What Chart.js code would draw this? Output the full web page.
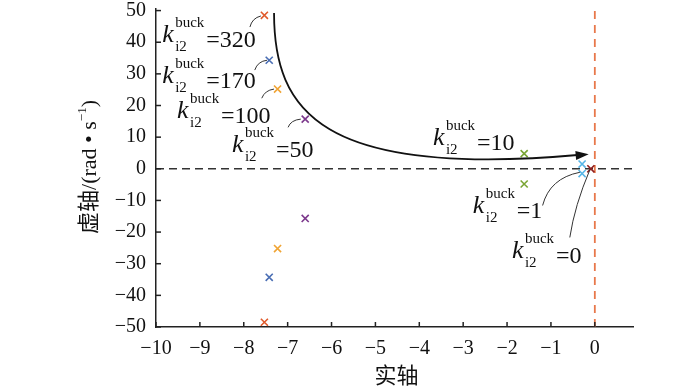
<!DOCTYPE html>
<html><head><meta charset="utf-8">
<script src="https://cdn.jsdelivr.net/npm/chart.js@4.4.0/dist/chart.umd.min.js"></script>
<style>html,body{margin:0;padding:0;background:#fff}#wrap{width:700px;height:388px}</style>
</head><body><div id="wrap"><canvas id="c"></canvas></div>
<script>
// ── data ──
const gains    = ['320', '170', '100', '50', '10', '1', '0'];
const realPart = [-7.53, -7.42, -7.23, -6.60, -1.61, -0.29, -0.09];
const imagPart = [48.5, 34.3, 25.2, 15.7, 4.8, 1.5, 0];
const xTicks = [-10, -9, -8, -7, -6, -5, -4, -3, -2, -1, 0];
const yTicks = [-50, -40, -30, -20, -10, 0, 10, 20, 30, 40, 50];

// label anchors (k baseline), in axis units
const labelX = [-9.86, -9.86, -9.52, -8.27, -3.69, -2.78, -1.89];
const labelY = [40.0, 27.1, 16.0, 5.2, 7.4, -14.1, -28.3];
// leader curves: start, control, end (axis units)
const leaders = [
    [-7.86, 44.8, -7.81, 47.6, -7.61, 48.3],
    [-7.75, 31.2, -7.68, 34.0, -7.47, 34.3],
    [-7.59, 22.3, -7.52, 24.8, -7.31, 25.2],
    [-6.99, 13.1, -6.93, 15.4, -6.70, 15.7],
    null,
    [-1.19, -11.6, -1.03, -3.0, -0.34, -1.1],
    [-0.57, -21.7, -0.46, -11.6, -0.11, -0.2]
];
// direction arrow (cubic bezier control points)
const arrowPath = [[-7.31, 49.2], [-7.31, 18.5], [-6.26, -3.0], [-0.14, 4.6]];

const markerColors = ['#e05a2b', '#4a6eb4', '#f0a434', '#7d3a8d', '#7aa535', '#58b6e6', '#8e1f1f'];
const SERIF = '"Liberation Serif", "Times New Roman", serif';
const CJK = '"Liberation Serif", "Noto Sans CJK SC", serif';

function fmt(v) { return v < 0 ? '\u2212' + Math.abs(v) : String(v); }

const datasets = gains.map((g, i) => ({
    label: 'k=' + g,
    data: imagPart[i] === 0 ? [{x: realPart[i], y: 0}]
        : [{x: realPart[i], y: imagPart[i]}, {x: realPart[i], y: -imagPart[i]}],
    showLine: false,
    pointStyle: 'crossRot', pointRadius: 5, pointBorderWidth: 1.6,
    borderColor: markerColors[i], backgroundColor: markerColors[i]
}));
datasets.push({
    data: [{x: -10, y: 0}, {x: 0.87, y: 0}], showLine: true, pointRadius: 0,
    borderColor: '#333', borderWidth: 1.5, borderDash: [8, 5]
});
datasets.push({
    data: [{x: 0, y: -50}, {x: 0, y: 50.5}], showLine: true, pointRadius: 0,
    borderColor: '#e8784a', borderWidth: 1.8, borderDash: [8, 6]
});

const overlay = {
    id: 'overlay',
    afterDraw(chart) {
        const {ctx, scales: {x, y}} = chart;
        const px = v => x.getPixelForValue(v), py = v => y.getPixelForValue(v);
        ctx.save();
        // inward ticks
        ctx.strokeStyle = '#222'; ctx.lineWidth = 1.5;
        xTicks.forEach(v => { ctx.beginPath(); ctx.moveTo(px(v), y.bottom); ctx.lineTo(px(v), y.bottom - 5); ctx.stroke(); });
        yTicks.forEach(v => { ctx.beginPath(); ctx.moveTo(x.left, py(v)); ctx.lineTo(x.left + 5, py(v)); ctx.stroke(); });

        // big arrow
        const P = arrowPath.map(p => [px(p[0]), py(p[1])]);
        ctx.strokeStyle = '#111'; ctx.lineWidth = 1.8;
        ctx.beginPath(); ctx.moveTo(P[0][0], P[0][1]);
        ctx.bezierCurveTo(P[1][0], P[1][1], P[2][0], P[2][1], P[3][0] - 8, P[3][1] + 0.5);
        ctx.stroke();
        let dx = P[3][0] - P[2][0], dy = P[3][1] - P[2][1];
        const len = Math.hypot(dx, dy); dx /= len; dy /= len;
        ctx.fillStyle = '#111';
        ctx.beginPath();
        ctx.moveTo(P[3][0], P[3][1]);
        ctx.lineTo(P[3][0] - 13 * dx - 4.5 * dy, P[3][1] - 13 * dy + 4.5 * dx);
        ctx.lineTo(P[3][0] - 13 * dx + 4.5 * dy, P[3][1] - 13 * dy - 4.5 * dx);
        ctx.closePath(); ctx.fill();

        // leader curves
        ctx.strokeStyle = '#333'; ctx.lineWidth = 1;
        leaders.forEach(l => {
            if (!l) return;
            ctx.beginPath(); ctx.moveTo(px(l[0]), py(l[1]));
            ctx.quadraticCurveTo(px(l[2]), py(l[3]), px(l[4]), py(l[5]));
            ctx.stroke();
        });

        // gain labels
        ctx.fillStyle = '#111'; ctx.textBaseline = 'alphabetic'; ctx.textAlign = 'left';
        gains.forEach((g, i) => {
            const lx = px(labelX[i]), ly = py(labelY[i]);
            ctx.font = 'italic 26px ' + SERIF; ctx.fillText('k', lx, ly);
            ctx.font = '15px ' + SERIF;
            ctx.fillText('buck', lx + 13, ly - 15);
            ctx.fillText('i2', lx + 13, ly + 9);
            ctx.font = '24px ' + SERIF; ctx.fillText('=' + g, lx + 44, ly + 5);
        });

        // axis titles
        ctx.textAlign = 'center'; ctx.textBaseline = 'middle';
        ctx.font = '22px ' + CJK;
        ctx.fillText('实轴', (x.left + x.right) / 2 + 2, 377);

        ctx.translate(88, 167);
        ctx.rotate(-Math.PI / 2);
        const main = '虚轴/(rad • s', sup = '\u22121', tail = ')';
        ctx.font = '22px ' + CJK; const w1 = ctx.measureText(main).width, w3 = ctx.measureText(tail).width;
        ctx.font = '13px ' + SERIF; const w2 = ctx.measureText(sup).width;
        let cx = -(w1 + w2 + w3) / 2;
        ctx.textAlign = 'left'; ctx.textBaseline = 'alphabetic';
        ctx.font = '22px ' + CJK; ctx.fillText(main, cx, 8); cx += w1;
        ctx.font = '13px ' + SERIF; ctx.fillText(sup, cx, -2); cx += w2;
        ctx.font = '22px ' + CJK; ctx.fillText(tail, cx, 8);
        ctx.restore();
    }
};

new Chart(document.getElementById('c'), {
    type: 'scatter',
    data: { datasets },
    plugins: [overlay],
    options: {
        responsive: true, maintainAspectRatio: false, animation: false,
        layout: { padding: { top: 9, right: 67, left: 0, bottom: 0 } },
        plugins: { legend: { display: false }, tooltip: { enabled: false } },
        scales: {
            x: {
                type: 'linear', min: -10, max: 0.87,
                afterBuildTicks: s => { s.ticks = xTicks.map(v => ({value: v})); },
                afterFit: s => { s.height = 61; s.paddingLeft = 0; s.paddingRight = 0; },
                grid: { display: false },
                border: { display: true, color: '#222', width: 1.5 },
                ticks: { color: '#111', padding: 2, maxRotation: 0, font: { family: SERIF, size: 20 }, callback: fmt }
            },
            y: {
                type: 'linear', min: -50, max: 50.5,
                afterBuildTicks: s => { s.ticks = yTicks.map(v => ({value: v})); },
                afterFit: s => { s.width = 156; s.paddingTop = 0; s.paddingBottom = 0; },
                grid: { display: false },
                border: { display: true, color: '#222', width: 1.5 },
                ticks: { color: '#111', padding: 2, font: { family: SERIF, size: 20 }, callback: fmt }
            }
        }
    }
});
</script>
</body></html>
